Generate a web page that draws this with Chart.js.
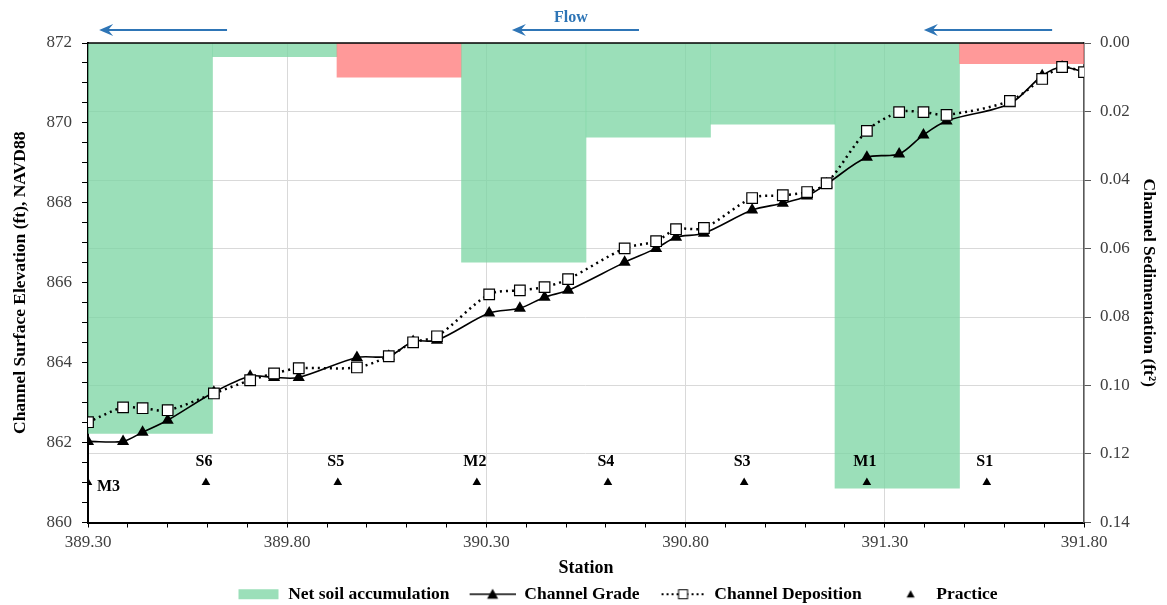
<!DOCTYPE html>
<html>
<head>
<meta charset="utf-8">
<script src="https://cdn.jsdelivr.net/npm/chart.js@4.4.0/dist/chart.umd.min.js"></script>
<style>
  body { margin: 0; background: #fff; }
</style>
</head>
<body>
<canvas id="grafico" width="1167" height="605"></canvas>
<script>
// stations shared by both surveyed lines
const stations = [389.300, 389.388, 389.437, 389.500, 389.616, 389.707, 389.767, 389.829,
  389.975, 390.055, 390.116, 390.176, 390.307, 390.384, 390.446, 390.505,
  390.647, 390.726, 390.776, 390.846, 390.967, 391.044, 391.105, 391.154,
  391.255, 391.336, 391.397, 391.455, 391.614, 391.695, 391.745, 391.800];
const channelGrade = [862.03, 862.03, 862.26, 862.56, 863.26, 863.66, 863.63, 863.63,
  864.13, 864.16, 864.53, 864.56, 865.24, 865.36, 865.64, 865.81,
  866.51, 866.86, 867.14, 867.24, 867.82, 867.99, 868.17, 868.47,
  869.14, 869.22, 869.70, 870.05, 870.48, 871.18, 871.40, 871.27];
const channelDeposition = [862.51, 862.88, 862.86, 862.81, 863.23, 863.56, 863.73, 863.86,
  863.88, 864.16, 864.51, 864.66, 865.71, 865.81, 865.89, 866.09,
  866.86, 867.04, 867.34, 867.37, 868.12, 868.19, 868.27, 868.49,
  869.80, 870.27, 870.27, 870.20, 870.55, 871.10, 871.40, 871.27];

// net soil accumulation per reach (ft2), negative = loss
const reachEdges = [389.30, 389.6125, 389.925, 390.2375, 390.55, 390.8625, 391.175, 391.4875, 391.80];
const netSoil = [0.114, 0.004, -0.010, 0.064, 0.0275, 0.0237, 0.130, -0.006];

const practiceStations = [389.30, 389.596, 389.927, 390.276, 390.605, 390.947, 391.255, 391.556];
const practiceNames = ['M3', 'S6', 'S5', 'M2', 'S4', 'S3', 'M1', 'S1'];
const practiceElevation = 861;

// flow arrows (station from -> to) and label
const flowFrom = [389.649, 390.683, 391.720];
const flowTo = [389.328, 390.364, 391.398];
const flowLabelAt = 390.512;

const stationMin = 389.3;
const stationMax = 391.8;

const serif = "'Liberation Serif', 'Times New Roman', serif";
const green = 'rgba(122,212,162,0.75)';
const red = 'rgba(255,119,119,0.75)';

const reachCenters = netSoil.map((v, i) => (reachEdges[i] + reachEdges[i + 1]) / 2);

function symbolo(draw) {
    const c = document.createElement('canvas');
    c.width = 60; c.height = 16;
    const g = c.getContext('2d');
    draw(g);
    return c;
}
function triangulo(g, cx, cy, w) {
    g.beginPath();
    g.moveTo(cx, cy - w * 0.5);
    g.lineTo(cx + w / 2, cy + w * 0.4);
    g.lineTo(cx - w / 2, cy + w * 0.4);
    g.closePath();
    g.fill();
}
const legendSymbols = [
    symbolo(g => { g.fillStyle = '#9bdfb9'; g.fillRect(19, 3, 40, 10); }),
    symbolo(g => {
        g.strokeStyle = '#000'; g.lineWidth = 1.5;
        g.beginPath(); g.moveTo(14, 8); g.lineTo(60, 8); g.stroke();
        g.fillStyle = '#000'; triangulo(g, 37, 8, 11);
    }),
    symbolo(g => {
        g.strokeStyle = '#000'; g.lineWidth = 2; g.setLineDash([2, 3]);
        g.beginPath(); g.moveTo(16, 8); g.lineTo(60, 8); g.stroke();
        g.setLineDash([]);
        g.fillStyle = '#fff'; g.fillRect(33, 3.5, 9, 9);
        g.lineWidth = 1; g.strokeRect(33, 3.5, 9, 9);
    }),
    symbolo(g => { g.fillStyle = '#000'; triangulo(g, 43, 8, 8); })
];

const extras = {
    id: 'extras',
    afterDraw(chart) {
        const {ctx, chartArea: a, scales: {x}} = chart;
        ctx.save();
        ctx.strokeStyle = '#000';
        ctx.lineWidth = 1.5;
        ctx.beginPath();
        ctx.moveTo(a.left, a.top);
        ctx.lineTo(a.right, a.top);
        ctx.stroke();

        // practice names
        ctx.font = 'bold 16px ' + serif;
        ctx.fillStyle = '#000';
        ctx.textBaseline = 'middle';
        chart.getDatasetMeta(3).data.forEach((pt, i) => {
            if (i === 0) {
                ctx.textAlign = 'left';
                ctx.fillText(practiceNames[i], pt.x + 9, pt.y + 4);
            } else {
                ctx.textAlign = 'center';
                ctx.fillText(practiceNames[i], pt.x - 2, pt.y - 21);
            }
        });

        // Flow arrows
        const azul = '#2e75b6';
        ctx.strokeStyle = azul;
        ctx.fillStyle = azul;
        const ay = a.top - 13;
        flowFrom.forEach((from, i) => {
            const x1 = x.getPixelForValue(from);
            const x2 = x.getPixelForValue(flowTo[i]);
            ctx.lineWidth = 2;
            ctx.beginPath();
            ctx.moveTo(x1, ay);
            ctx.lineTo(x2 + 6, ay);
            ctx.stroke();
            ctx.beginPath();
            ctx.moveTo(x2, ay);
            ctx.lineTo(x2 + 14, ay - 6);
            ctx.lineTo(x2 + 9, ay);
            ctx.lineTo(x2 + 14, ay + 6);
            ctx.closePath();
            ctx.fill();
        });
        ctx.font = 'bold 16px ' + serif;
        ctx.textAlign = 'center';
        ctx.fillText('Flow', x.getPixelForValue(flowLabelAt), a.top - 25);
        ctx.restore();
    }
};

// labelled x ticks every 0.5 starting from the first station
const isMajor = v => {
    const k = (v - stationMin) / 0.5;
    return Math.abs(k - Math.round(k)) < 1e-6;
};

new Chart(document.getElementById('grafico'), {
    type: 'line',
    data: {
        datasets: [{
            type: 'bar',
            label: 'Net soil accumulation',
            data: reachCenters.map((c, i) => ({x: c, y: Math.abs(netSoil[i])})),
            backgroundColor: netSoil.map(v => v < 0 ? red : green),
            borderWidth: 0,
            grouped: false,
            barPercentage: 1,
            categoryPercentage: 1,
            xAxisID: 'xb',
            yAxisID: 'y2',
            order: 4
        }, {
            label: 'Channel Grade',
            data: stations.map((s, i) => ({x: s, y: channelGrade[i]})),
            borderColor: '#000',
            borderWidth: 1.6,
            tension: 0.3,
            pointStyle: 'triangle',
            pointRadius: 7,
            pointBackgroundColor: '#000',
            pointBorderColor: '#000',
            pointBorderWidth: 0,
            xAxisID: 'x',
            yAxisID: 'y',
            order: 2
        }, {
            label: 'Channel Deposition',
            data: stations.map((s, i) => ({x: s, y: channelDeposition[i]})),
            borderColor: '#000',
            borderWidth: 2.5,
            borderDash: [2, 4],
            tension: 0.3,
            pointStyle: 'rect',
            pointRadius: 7.5,
            pointBackgroundColor: '#fff',
            pointBorderColor: '#000',
            pointBorderWidth: 1.2,
            xAxisID: 'x',
            yAxisID: 'y',
            order: 1
        }, {
            label: 'Practice',
            data: practiceStations.map(s => ({x: s, y: practiceElevation})),
            showLine: false,
            pointStyle: 'triangle',
            pointRadius: 5,
            pointBackgroundColor: '#000',
            pointBorderColor: '#000',
            pointBorderWidth: 0,
            xAxisID: 'x',
            yAxisID: 'y',
            order: 0
        }]
    },
    options: {
        responsive: false,
        animation: false,
        // right padding pushed past the canvas so the bottom legend centres like the original
        layout: { padding: { top: 43, left: 0, right: -50, bottom: -8 } },
        plugins: {
            tooltip: { enabled: false },
            legend: {
                position: 'bottom',
                labels: {
                    usePointStyle: true,
                    pointStyleWidth: 60,
                    padding: 6,
                    color: '#000',
                    font: { family: serif, size: 17.5, weight: 'bold' },
                    generateLabels: function(chart) {
                        return chart.data.datasets.map((ds, i) => ({
                            text: ds.label,
                            pointStyle: legendSymbols[i],
                            datasetIndex: i,
                            hidden: !chart.isDatasetVisible(i),
                            fillStyle: 'transparent',
                            strokeStyle: 'transparent',
                            lineWidth: 0,
                            fontColor: '#000'
                        }));
                    }
                }
            }
        },
        scales: {
            x: {
                type: 'linear',
                position: 'bottom',
                min: stationMin,
                max: stationMax,
                offset: false,
                afterFit: s => { s.height = 57; },
                ticks: {
                    stepSize: 0.1,
                    autoSkip: false,
                    maxRotation: 0,
                    padding: 5,
                    color: '#404040',
                    font: { family: serif, size: 17 },
                    callback: v => isMajor(v) ? Number(v).toFixed(2) : ''
                },
                grid: {
                    color: ctx => (ctx.tick && isMajor(ctx.tick.value)) ? '#d9d9d9' : 'rgba(0,0,0,0)',
                    tickColor: '#000',
                    tickLength: 5
                },
                border: { color: '#000', width: 2 },
                title: {
                    display: true,
                    text: 'Station',
                    color: '#000',
                    padding: { top: 0, bottom: 0 },
                    font: { family: serif, size: 18, weight: 'bold' }
                }
            },
            xb: {
                type: 'linear',
                display: false,
                min: stationMin,
                max: stationMax,
                offset: false,
                ticks: { stepSize: 1 },
                grid: { offset: false }
            },
            y: {
                type: 'linear',
                position: 'left',
                min: 860,
                max: 872,
                afterFit: s => { s.width = 88; },
                ticks: {
                    stepSize: 0.5,
                    autoSkip: false,
                    padding: 10,
                    color: '#404040',
                    font: { family: serif, size: 17 },
                    callback: v => v % 2 === 0 ? v : ''
                },
                grid: { drawOnChartArea: false, tickColor: '#000', tickLength: 6 },
                border: { color: '#000', width: 2 },
                title: {
                    display: true,
                    text: 'Channel Surface Elevation (ft), NAVD88',
                    color: '#000',
                    padding: { top: 10, bottom: 0 },
                    font: { family: serif, size: 17.5, weight: 'bold' }
                }
            },
            y2: {
                type: 'linear',
                position: 'right',
                min: 0,
                max: 0.14,
                reverse: true,
                afterFit: s => { s.width = 133; },
                ticks: {
                    stepSize: 0.02,
                    autoSkip: false,
                    padding: 9,
                    color: '#404040',
                    font: { family: serif, size: 17 },
                    callback: v => Number(v).toFixed(2)
                },
                grid: { color: '#d9d9d9', tickColor: '#595959', tickLength: 7 },
                border: { color: '#595959', width: 1.5 },
                title: {
                    display: true,
                    text: 'Channel Sedimentation (ft\u00B2)',
                    color: '#000',
                    padding: { top: 58, bottom: 0 },
                    font: { family: serif, size: 17.5, weight: 'bold' }
                }
            }
        }
    },
    plugins: [extras]
});
</script>
</body>
</html>
